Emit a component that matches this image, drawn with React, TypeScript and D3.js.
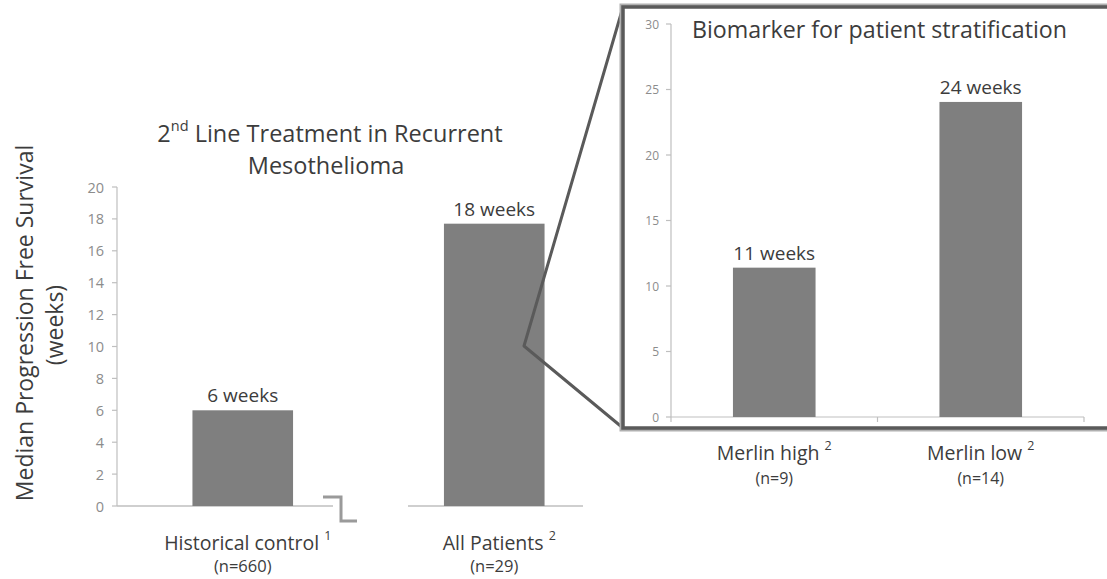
import React from 'react';
import * as d3 from 'd3';

const mainCategories = ['Historical control', 'All Patients'];
const mainNotes = ['1', '2'];
const mainCounts = ['(n=660)', '(n=29)'];
const mainValues = [6, 17.7];
const mainBarLabels = ['6 weeks', '18 weeks'];
const mainTicks = [0, 2, 4, 6, 8, 10, 12, 14, 16, 18, 20];

const insetCategories = ['Merlin high', 'Merlin low'];
const insetNotes = ['2', '2'];
const insetCounts = ['(n=9)', '(n=14)'];
const insetValues = [11.4, 24.05];
const insetBarLabels = ['11 weeks', '24 weeks'];
const insetTicks = [0, 5, 10, 15, 20, 25, 30];

const FONT = '"Open Sans", Lato, sans-serif';
const TEXT = '#3c3c3c';
const TICK = '#8c8c8c';
const AXIS = '#bfbfbf';
const BAR = '#7f7f7f';
const FRAME = '#5a5a5a';

export default function App() {
  // main chart scales
  const yMain = d3.scaleLinear().domain([0, 20]).range([506, 187]);
  const xMain = d3.scaleBand<string>().domain(mainCategories).range([117, 620]);
  const mainBarW = xMain.bandwidth() * 0.4;

  // inset chart scales
  const yIn = d3.scaleLinear().domain([0, 30]).range([417, 24]);
  const xIn = d3.scaleBand<string>().domain(insetCategories).range([671, 1084]);
  const inBarW = xIn.bandwidth() * 0.4;

  const axisX = xMain.range()[0];
  const inAxisX = xIn.range()[0];

  const box = { x: 623, y: 7, bottom: 428 };
  const vertex = { x: 524, y: 346 };

  return (
    <svg width={1107} height={579} style={{ position: 'absolute', left: 0, top: 0, background: '#fff' }} fontFamily={FONT}>
      <rect x={0} y={0} width={1107} height={579} fill="#fff" />

      {/* Y axis title */}
      <g transform="translate(24,323) rotate(-90)">
        <text textAnchor="middle" dominantBaseline="central" fontSize={23} fill={TEXT}>Median Progression Free Survival</text>
      </g>
      <g transform="translate(54,325) rotate(-90)">
        <text textAnchor="middle" dominantBaseline="central" fontSize={23} fill={TEXT}>(weeks)</text>
      </g>

      {/* Main title */}
      <text x={330} y={133} textAnchor="middle" dominantBaseline="central" fontSize={23.5} fill={TEXT}>
        2<tspan fontSize={14.5} dy={-8}>nd</tspan><tspan dy={8}> Line Treatment in Recurrent</tspan>
      </text>
      <text x={326} y={165} textAnchor="middle" dominantBaseline="central" fontSize={23.5} fill={TEXT}>Mesothelioma</text>

      {/* Main y axis */}
      <line x1={axisX} x2={axisX} y1={yMain(20)} y2={yMain(0)} stroke={AXIS} strokeWidth={1.2} />
      {mainTicks.map((t) => (
        <g key={t}>
          <line x1={axisX - 5} x2={axisX} y1={yMain(t)} y2={yMain(t)} stroke={AXIS} strokeWidth={1.2} />
          <text x={axisX - 13} y={yMain(t)} textAnchor="end" dominantBaseline="central" fontSize={14.5} fill={TICK}>{t}</text>
        </g>
      ))}

      {/* Main baselines (broken) */}
      <line x1={axisX} x2={333} y1={yMain(0)} y2={yMain(0)} stroke={AXIS} strokeWidth={1.4} />
      <line x1={408} x2={583} y1={yMain(0)} y2={yMain(0)} stroke={AXIS} strokeWidth={1.4} />
      <path d="M323,497 H341 V521 H357" fill="none" stroke="#9a9a9a" strokeWidth={3} />

      {/* Main bars */}
      {mainCategories.map((c, i) => {
        const cx = (xMain(c) as number) + xMain.bandwidth() / 2;
        return (
          <g key={c}>
            <rect x={cx - mainBarW / 2} y={yMain(mainValues[i])} width={mainBarW} height={yMain(0) - yMain(mainValues[i])} fill={BAR} />
            <text x={cx} y={yMain(mainValues[i]) - 15} textAnchor="middle" dominantBaseline="central" fontSize={19} fill={TEXT}>{mainBarLabels[i]}</text>
            <text x={cx + 5} y={542} textAnchor="middle" dominantBaseline="central" fontSize={19.5} fill={TEXT}>
              {mainCategories[i]} <tspan fontSize={12.5} dy={-7}>{mainNotes[i]}</tspan>
            </text>
            <text x={cx} y={565} textAnchor="middle" dominantBaseline="central" fontSize={16.5} fill={TEXT}>{mainCounts[i]}</text>
          </g>
        );
      })}

      {/* Zoom connector lines */}
      <path d={`M${box.x},${box.y} L${vertex.x},${vertex.y} L${box.x},${box.bottom}`} fill="none" stroke={FRAME} strokeWidth={3} strokeLinejoin="round" />

      {/* Inset box */}
      <path d={`M1110,${box.y} H${box.x} V${box.bottom} H1110`} fill="#fff" stroke="#b0b0b0" strokeWidth={7} />
      <path d={`M1110,${box.y} H${box.x} V${box.bottom} H1110`} fill="#fff" stroke={FRAME} strokeWidth={3.5} />

      {/* Inset title */}
      <text x={692} y={29} dominantBaseline="central" fontSize={23.2} fill={TEXT}>Biomarker for patient stratification</text>

      {/* Inset y axis */}
      <line x1={inAxisX} x2={inAxisX} y1={yIn(30)} y2={yIn(0)} stroke={AXIS} strokeWidth={1.2} />
      {insetTicks.map((t) => (
        <g key={t}>
          <line x1={inAxisX - 5} x2={inAxisX} y1={yIn(t)} y2={yIn(t)} stroke={AXIS} strokeWidth={1.2} />
          <text x={inAxisX - 12} y={yIn(t)} textAnchor="end" dominantBaseline="central" fontSize={12} fill={TICK}>{t}</text>
        </g>
      ))}
      {/* Inset x axis */}
      <line x1={xIn.range()[0]} x2={xIn.range()[1]} y1={yIn(0)} y2={yIn(0)} stroke={AXIS} strokeWidth={1.2} />
      {[...insetCategories.map((c) => xIn(c) as number), xIn.range()[1]].map((x, i) => (
        <line key={i} x1={x} x2={x} y1={yIn(0)} y2={yIn(0) + 5} stroke={AXIS} strokeWidth={1.2} />
      ))}

      {/* Inset bars */}
      {insetCategories.map((c, i) => {
        const cx = (xIn(c) as number) + xIn.bandwidth() / 2;
        return (
          <g key={c}>
            <rect x={cx - inBarW / 2} y={yIn(insetValues[i])} width={inBarW} height={yIn(0) - yIn(insetValues[i])} fill={BAR} />
            <text x={cx} y={yIn(insetValues[i]) - 15} textAnchor="middle" dominantBaseline="central" fontSize={19} fill={TEXT}>{insetBarLabels[i]}</text>
            <text x={cx} y={452} textAnchor="middle" dominantBaseline="central" fontSize={19.5} fill={TEXT}>
              {insetCategories[i]} <tspan fontSize={12.5} dy={-7}>{insetNotes[i]}</tspan>
            </text>
            <text x={cx} y={478} textAnchor="middle" dominantBaseline="central" fontSize={16} fill={TEXT}>{insetCounts[i]}</text>
          </g>
        );
      })}
    </svg>
  );
}
